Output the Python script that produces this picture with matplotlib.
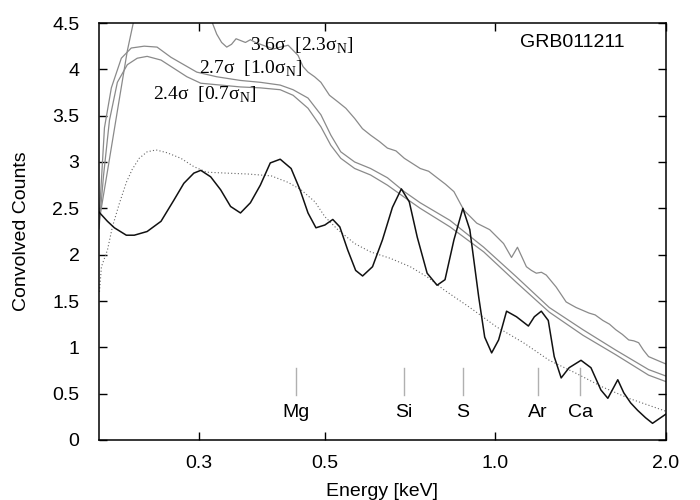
import matplotlib
matplotlib.use('Agg')
import matplotlib.pyplot as plt
from matplotlib.ticker import FixedLocator, NullLocator

plt.rcParams['font.family'] = ['Liberation Sans Narrow', 'Liberation Sans', 'DejaVu Sans']
plt.rcParams['mathtext.fontset'] = 'custom'
plt.rcParams['mathtext.rm'] = 'Liberation Serif'

# convolved model (black)
e_black = [0.200, 0.2070, 0.2129, 0.2235, 0.2308, 0.2432, 0.2573, 0.2712, 0.2823, 0.2940,
           0.3024, 0.3148, 0.3278, 0.3413, 0.3553, 0.3699, 0.3851, 0.4010, 0.4175, 0.4364,
           0.4525, 0.4674, 0.4827, 0.5005, 0.5169, 0.5318, 0.5492, 0.5672, 0.5834, 0.6074,
           0.6324, 0.6585, 0.6828, 0.7052, 0.7283, 0.7582, 0.7894, 0.8153, 0.8454, 0.8766,
           0.9017, 0.9350, 0.9579, 0.9853, 1.0136, 1.0468, 1.0898, 1.1439, 1.1719, 1.2054,
           1.2400, 1.2703, 1.3067, 1.3495, 1.4164, 1.4747, 1.5355, 1.5794, 1.6444, 1.6847,
           1.7329, 1.7825, 1.8410, 1.8937, 2.0]
c_black = [2.46, 2.36, 2.29, 2.21, 2.21, 2.25, 2.36, 2.59, 2.77, 2.88,
           2.91, 2.84, 2.70, 2.52, 2.45, 2.56, 2.75, 2.99, 3.03, 2.93,
           2.70, 2.45, 2.29, 2.32, 2.38, 2.30, 2.05, 1.83, 1.77, 1.87,
           2.16, 2.51, 2.71, 2.57, 2.19, 1.80, 1.67, 1.73, 2.16, 2.50,
           2.27, 1.54, 1.11, 0.94, 1.08, 1.39, 1.33, 1.23, 1.33, 1.39,
           1.29, 0.90, 0.67, 0.78, 0.86, 0.78, 0.54, 0.45, 0.65, 0.51,
           0.40, 0.32, 0.24, 0.18, 0.28]

# continuum (dotted)
e_dot = [0.2004, 0.2020, 0.2070, 0.2112, 0.2172, 0.2235, 0.2289, 0.2355, 0.2432, 0.2522,
         0.2637, 0.2789, 0.2940, 0.3098, 0.3358, 0.3669, 0.4026, 0.4312, 0.4544, 0.4808,
         0.5005, 0.5275, 0.5649, 0.6025, 0.6532, 0.7080, 0.7582, 0.8121, 0.9017, 1.0055,
         1.1210, 1.2450, 1.3881, 1.5479, 1.7190, 2.0]
c_dot = [1.60, 1.87, 2.05, 2.30, 2.55, 2.78, 2.92, 3.04, 3.11, 3.13,
         3.10, 3.04, 2.95, 2.89, 2.88, 2.87, 2.85, 2.78, 2.70, 2.57,
         2.41, 2.27, 2.12, 2.03, 1.96, 1.87, 1.76, 1.62, 1.43, 1.22,
         1.05, 0.86, 0.72, 0.57, 0.45, 0.31]

# significance curves (gray)
e_24 = [0.200, 0.2037, 0.2087, 0.2155, 0.2244, 0.2336, 0.2432, 0.2573, 0.2712, 0.2858,
        0.3024, 0.3278, 0.3553, 0.3851, 0.4175, 0.4399, 0.4674, 0.4925, 0.5128, 0.5339,
        0.5649, 0.6025, 0.6453, 0.6911, 0.7372, 0.8319, 0.9541, 1.0898, 1.2450, 1.4278,
        1.6312, 1.8635, 2.0]
c_24 = [2.28, 2.85, 3.45, 3.86, 4.05, 4.12, 4.14, 4.10, 4.01, 3.92,
        3.85, 3.83, 3.81, 3.80, 3.78, 3.72, 3.58, 3.38, 3.18, 3.04,
        2.93, 2.86, 2.75, 2.62, 2.50, 2.30, 2.03, 1.70, 1.38, 1.13,
        0.92, 0.70, 0.63]

e_27 = [0.200, 0.2045, 0.2103, 0.2190, 0.2280, 0.2403, 0.2532, 0.2679, 0.2823, 0.2975,
        0.3225, 0.3553, 0.3851, 0.4175, 0.4399, 0.4674, 0.4925, 0.5128, 0.5339, 0.5649,
        0.6025, 0.6453, 0.6911, 0.7372, 0.8319, 0.9541, 1.0898, 1.2450, 1.4278, 1.6312,
        1.8635, 2.0]
c_27 = [2.35, 3.37, 3.80, 4.12, 4.23, 4.25, 4.24, 4.13, 4.05, 3.97,
        3.92, 3.88, 3.86, 3.83, 3.78, 3.69, 3.51, 3.29, 3.11, 3.00,
        2.93, 2.83, 2.68, 2.56, 2.37, 2.08, 1.76, 1.43, 1.19, 0.97,
        0.76, 0.69]

e_36 = [0.200, 0.2070, 0.2155, 0.2244, 0.2308, 0.2355, 0.2881, 0.3161, 0.3226, 0.3291,
        0.3360, 0.3426, 0.3490, 0.3625, 0.3700, 0.3774, 0.4058, 0.4312, 0.4489, 0.4580,
        0.4674, 0.4800, 0.4925, 0.5100, 0.5275, 0.5450, 0.5649, 0.5830, 0.6025, 0.6250,
        0.6453, 0.6680, 0.6911, 0.7372, 0.7630, 0.7894, 0.8170, 0.8454, 0.8802, 0.9275,
        0.9774, 1.0342, 1.0681, 1.0942, 1.1346, 1.1580, 1.1813, 1.2060, 1.2299, 1.2806,
        1.3333, 1.3600, 1.3881, 1.4629, 1.5000, 1.5479, 1.5900, 1.6312, 1.6750, 1.7190,
        1.7550, 1.7897, 1.8250, 1.8635, 1.9300, 2.0]
c_36 = [2.35, 2.90, 3.55, 4.20, 4.55, 4.80, 4.80, 4.52, 4.38, 4.29,
        4.24, 4.27, 4.33, 4.29, 4.32, 4.29, 4.22, 4.26, 4.15, 4.03,
        3.97, 3.92, 3.86, 3.72, 3.65, 3.58, 3.47, 3.36, 3.29, 3.22,
        3.15, 3.12, 3.04, 2.93, 2.90, 2.83, 2.76, 2.68, 2.48, 2.34,
        2.27, 2.12, 1.97, 2.08, 1.87, 1.83, 1.80, 1.81, 1.78, 1.65,
        1.49, 1.46, 1.43, 1.37, 1.35, 1.29, 1.25, 1.19, 1.14, 1.08,
        1.07, 1.05, 0.97, 0.90, 0.86, 0.82]

# emission line positions
elements = ['Mg', 'Si', 'S', 'Ar', 'Ca']
e_lines = [0.446, 0.690, 0.877, 1.187, 1.411]

fig = plt.figure(figsize=(7, 5), dpi=100)
ax = fig.add_axes([0.1414, 0.12, 0.81, 0.834])

gray = '#8a8a8a'
ax.plot(e_36, c_36, color=gray, lw=0.9)
ax.plot(e_27, c_27, color=gray, lw=0.9)
ax.plot(e_24, c_24, color=gray, lw=0.9)
ax.plot(e_dot, c_dot, color='#666666', lw=0.8, linestyle=(0, (1, 2)))
ax.plot(e_black, c_black, color='#111111', lw=1.1)

for name, e in zip(elements, e_lines):
    ax.plot([e, e], [0.485, 0.777], color='#b0b0b0', lw=1.0)
    ax.text(e, 0.30, name, ha='center', va='center', fontsize=14)

serif = ['Liberation Serif', 'DejaVu Serif']
ax.text(0.370, 4.256, '3.6σ  [2.3σ$_{\\mathrm{N}}$]', family=serif,
        fontsize=14, va='center', ha='left')
ax.text(0.300, 4.00, '2.7σ  [1.0σ$_{\\mathrm{N}}$]', family=serif,
        fontsize=14, va='center', ha='left')
ax.text(0.249, 3.73, '2.4σ  [0.7σ$_{\\mathrm{N}}$]', family=serif,
        fontsize=14, va='center', ha='left')
ax.text(0.834, 0.954, 'GRB011211', transform=ax.transAxes, ha='center', va='center',
        fontsize=14)

ax.set_xscale('log')
ax.set_xlim(0.2, 2.0)
ax.set_ylim(0, 4.5)
ax.xaxis.set_major_locator(FixedLocator([0.3, 0.5, 1.0, 2.0]))
ax.xaxis.set_minor_locator(NullLocator())
ax.set_xticklabels(['0.3', '0.5', '1.0', '2.0'])
yt = [0, 0.5, 1, 1.5, 2, 2.5, 3, 3.5, 4, 4.5]
ax.set_yticks(yt)
ax.set_yticklabels(['0', '0.5', '1', '1.5', '2', '2.5', '3', '3.5', '4', '4.5'])
ax.tick_params(direction='in', top=True, right=True, length=6, width=1.0,
               labelsize=14)
ax.tick_params(axis='y', pad=14)
ax.tick_params(axis='x', pad=11)
for s in ax.spines.values():
    s.set_linewidth(1.1)

ax.set_xlabel('Energy [keV]', fontsize=14, labelpad=8)
ax.set_ylabel('Convolved Counts', fontsize=14, labelpad=16)

fig.savefig('out.png', dpi=100)
